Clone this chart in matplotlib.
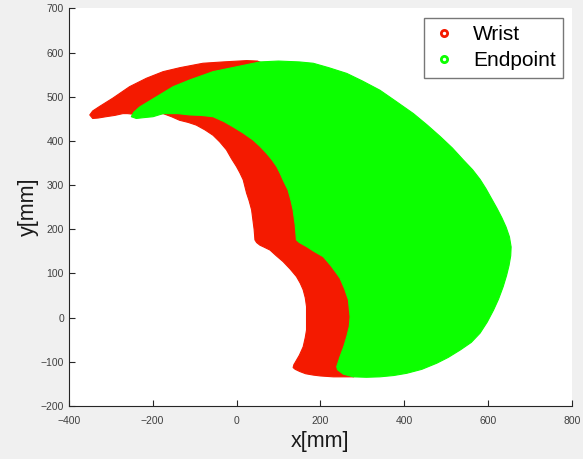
import matplotlib
matplotlib.use("Agg")
import matplotlib.pyplot as plt
from matplotlib.lines import Line2D

plt.rcParams['font.family'] = ['Liberation Sans', 'DejaVu Sans']

# Boundary of the wrist workspace (red), in mm
wrist_x = [-350, -343, -327, -295, -255, -215, -175, -135, -80, -32, 24, 50,
           100, 160, 190, 200, 200, 210, 260, 300, 300, 295, 279,
           255, 231, 200, 183, 165, 151, 140, 135, 137, 139, 150, 159, 164, 167, 167, 167, 164, 159, 152, 143,
           128, 111, 95, 80, 65, 56, 48, 44, 42, 36, 30, 24, 16, 8, 0, -12, -24, -40, -56, -75, -96, -115,
           -136, -155, -175, -200, -240, -260, -271, -290, -311, -330, -343]
wrist_y = [459, 468, 478, 497, 523, 542, 557, 566, 576, 579, 582, 581,
           560, 500, 420, 330, 240, 170, 110, 40, -60, -120, -134,
           -134, -134, -132, -130, -127, -122, -117, -113, -106, -103, -85, -66, -45, -28, 0, 25, 45, 63, 78, 93,
           110, 127, 140, 153, 160, 164, 170, 176, 200, 244, 265, 282, 312, 328, 342, 360, 380, 398, 413, 425,
           436, 442, 447, 455, 462, 462, 460, 462, 462, 458, 455, 452, 451]

# Boundary of the endpoint workspace (green), in mm
endpoint_x = [-251, -245, -231, -191, -151, -112, -56, 0, 56, 100, 150, 183, 220, 263, 300, 342, 380, 422,
              455, 486, 515, 541, 563, 581, 595, 608, 621, 633, 643, 651, 655, 654, 650, 644, 636, 625, 613, 598,
              581, 560, 534, 505, 478, 442, 406, 375, 342, 310, 279, 255, 241, 239,
              247, 256, 263, 269, 271, 269, 267, 258, 247, 239, 225, 207, 185, 167, 150, 143, 140, 135, 130,
              123, 112, 104, 96, 85, 72, 56, 40, 16, -8, -30, -56, -85, -112, -140, -175, -199, -220, -239]
endpoint_y = [455, 465, 477, 500, 523, 538, 557, 568, 579, 581, 579, 576, 566, 553, 536, 515, 490, 462,
              436, 410, 384, 357, 335, 313, 292, 270, 248, 226, 205, 183, 160, 140, 118, 95, 70, 42, 17, -10,
              -35, -56, -73, -90, -103, -117, -126, -131, -134, -135, -134, -128, -118, -111,
              -88, -65, -43, -20, 2, 20, 40, 65, 89, 100, 118, 138, 150, 161, 170, 176, 210, 244, 265,
              289, 310, 327, 342, 357, 372, 388, 402, 418, 432, 444, 455, 458, 459, 462, 462, 455, 453, 451]

series_labels = ['Wrist', 'Endpoint']
series_colors = ['#f41a00', '#0cff00']
x_ticks = [-400, -200, 0, 200, 400, 600, 800]
y_ticks = [-200, -100, 0, 100, 200, 300, 400, 500, 600, 700]

fig = plt.figure(figsize=(5.83, 4.59), dpi=100, facecolor='#f0f0f0')
ax = fig.add_axes([0.118, 0.1155, 0.863, 0.866])
ax.set_facecolor('white')

ax.fill(wrist_x, wrist_y, color=series_colors[0], lw=0.8, ec=series_colors[0], zorder=2)
ax.fill(endpoint_x, endpoint_y, color=series_colors[1], lw=0.8, ec=series_colors[1], zorder=3)

ax.set_xlim(-400, 800)
ax.set_ylim(-200, 700)
ax.set_xticks(x_ticks)
ax.set_yticks(y_ticks)
ax.tick_params(direction='in', length=4, width=0.8, colors='#262626', labelsize=7.5,
               labelcolor='#404040')
ax.tick_params(axis='x', pad=7)
ax.tick_params(axis='y', pad=3.5)
for s in ['top', 'right']:
    ax.spines[s].set_visible(False)
for s in ['left', 'bottom']:
    ax.spines[s].set_color('#262626')
    ax.spines[s].set_linewidth(0.8)

ax.set_xlabel('x[mm]', fontsize=15.5, color='#1a1a1a', labelpad=4)
ax.set_ylabel('y[mm]', fontsize=15.5, color='#1a1a1a', labelpad=1)

handles = [Line2D([], [], ls='none', marker='o', ms=4.5, mfc='none', mew=2, mec=c) for c in series_colors]
leg = ax.legend(handles, series_labels, loc='upper right', bbox_to_anchor=(0.983, 0.977),
                fontsize=15, frameon=True, fancybox=False, handlelength=1.2, handletextpad=0.8,
                labelspacing=0.35, borderpad=0.35, borderaxespad=0)
leg.get_frame().set_edgecolor('#555555')
leg.get_frame().set_linewidth(1.0)

fig.savefig('out.png', dpi=100, facecolor=fig.get_facecolor())
